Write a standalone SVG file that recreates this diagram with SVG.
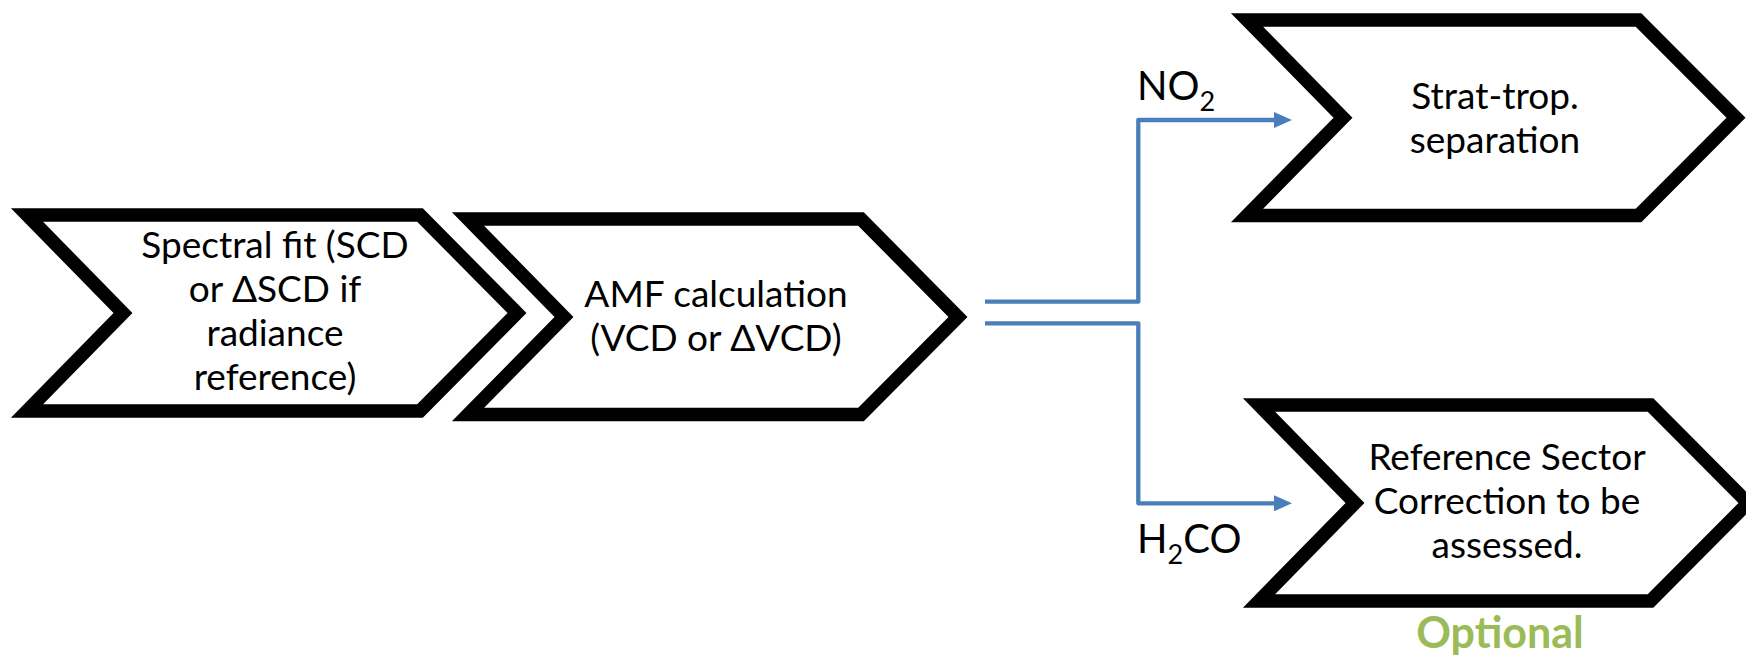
<svg xmlns="http://www.w3.org/2000/svg" width="1746" height="659" viewBox="0 0 1746 659">
<style>
.chev{fill:#ffffff;stroke:#000000;stroke-width:13.5;stroke-linejoin:miter;stroke-miterlimit:10}
.t{font-family:Lato,"Liberation Sans",sans-serif;font-size:37px;fill:#000000;text-anchor:middle}
.lbl{font-family:Lato,"Liberation Sans",sans-serif;font-size:40px;fill:#000000}
.opt{font-family:Lato,"Liberation Sans",sans-serif;font-size:43px;font-weight:bold;fill:#9BBB59;text-anchor:middle}
.conn{fill:none;stroke:#4A7EBB;stroke-width:4.3;stroke-linejoin:round}
</style>
<defs>
<marker id="arr" markerUnits="userSpaceOnUse" markerWidth="18" markerHeight="16" refX="0" refY="8" orient="auto">
<path d="M0,0 L18,8 L0,16 z" fill="#4A7EBB"/>
</marker>
</defs>
<rect width="1746" height="659" fill="#ffffff"/>
<g id="node-spectral-fit">
<polygon class="chev" points="27,215 420,215 517,313 420,411 27,411 123,313"/>
<text class="t" x="275" y="258">Spectral fit (SCD</text>
<text class="t" x="275" y="302">or ΔSCD if</text>
<text class="t" x="275" y="346">radiance</text>
<text class="t" x="275" y="390">reference)</text>
</g>
<g id="node-amf">
<polygon class="chev" points="468,219 861,219 958,317 861,414.5 468,414.5 564,317"/>
<text class="t" x="716" y="307">AMF calculation</text>
<text class="t" x="716" y="351">(VCD or ΔVCD)</text>
</g>
<g id="node-strat-trop">
<polygon class="chev" points="1247,20 1638.5,20 1736,117.75 1638.5,215.5 1247,215.5 1343,117.75"/>
<text class="t" x="1495" y="109">Strat-trop.</text>
<text class="t" x="1495" y="153">separation</text>
</g>
<g id="node-reference-sector">
<polygon class="chev" points="1259,405 1650.5,405 1748,503 1650.5,601 1259,601 1355,503"/>
<text class="t" x="1507" y="470">Reference Sector</text>
<text class="t" x="1507" y="514">Correction to be</text>
<text class="t" x="1507" y="558">assessed.</text>
<text class="opt" x="1500" y="648">Optional</text>
</g>
<g id="connectors">
<path class="conn" d="M985,301.7 H1138.3 V120 H1274" marker-end="url(#arr)"/>
<path class="conn" d="M985,323.3 H1138.3 V503.3 H1274" marker-end="url(#arr)"/>
<text class="lbl" x="1137" y="100">NO<tspan font-size="27" dy="11">2</tspan></text>
<text class="lbl" x="1137" y="553">H<tspan font-size="27" dy="11">2</tspan><tspan dy="-11">CO</tspan></text>
</g>
</svg>
